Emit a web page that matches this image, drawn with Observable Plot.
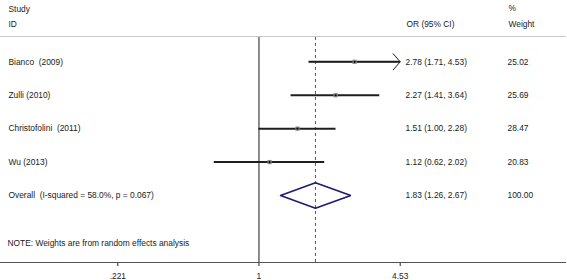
<!DOCTYPE html>
<html><head><meta charset="utf-8">
<script src="https://cdn.jsdelivr.net/npm/d3@7"></script>
<script src="https://cdn.jsdelivr.net/npm/@observablehq/plot@0.6"></script>
<style>body{margin:0;background:#fff} svg{display:block}</style>
</head><body><div id="chart"></div>
<script>
const studies = ["Bianco\u00a0 (2009)", "Zulli (2010)", "Christofolini\u00a0 (2011)", "Wu (2013)"];
const estimates = [2.78, 2.27, 1.51, 1.12];
const lower = [1.71, 1.41, 1.00, 0.62];
const upper = [4.53, 3.64, 2.28, 2.02];
const weights = [25.02, 25.69, 28.47, 20.83];
const overallLabel = "Overall\u00a0 (I-squared = 58.0%, p = 0.067)";
const overallEst = 1.83, overallLo = 1.26, overallHi = 2.67, overallWeight = 100.00;
const tickValues = [0.221, 1, 4.53];
const tickLabels = [".221", "1", "4.53"];
const headerStudy = ["Study", "ID"];
const headerOR = "OR (95% CI)";
const headerWeight = ["%", "Weight"];
const note = "NOTE: Weights are from random effects analysis";

const rows = studies.map((s, i) => ({study: s, row: i, est: estimates[i], lo: lower[i], hi: upper[i], weight: weights[i]}));
const overall = {study: overallLabel, row: studies.length, est: overallEst, lo: overallLo, hi: overallHi, weight: overallWeight};
const all = [...rows, overall];
const fmt = v => v.toFixed(2);
const ciText = d => `${fmt(d.est)} (${fmt(d.lo)}, ${fmt(d.hi)})`;
const xMax = d3.max(tickValues);
const clipped = rows.filter(d => d.hi >= xMax);
const h = 0.383;
const diamond = [
  {x: overall.lo, y: overall.row},
  {x: overall.est, y: overall.row - h},
  {x: overall.hi, y: overall.row},
  {x: overall.est, y: overall.row + h},
  {x: overall.lo, y: overall.row}
];

const W = 567, H = 280;
const textStyle = {fill: "#1a1a1a", textAnchor: "start", fontSize: 8.4};

const chart = Plot.plot({
  width: W, height: H,
  marginLeft: 0, marginRight: 2, marginTop: 37, marginBottom: 18,
  style: {fontFamily: "'Liberation Sans', Arial, sans-serif", fontSize: "8.4px", color: "#222", background: "#fff"},
  x: {type: "log", domain: [tickValues[0], xMax], range: [117.3, 399.7],
      ticks: tickValues, tickFormat: v => tickLabels[tickValues.indexOf(v)],
      tickSize: 4, tickPadding: 7, label: null},
  y: {domain: [0, studies.length], range: [61.3, 195], axis: null},
  marks: [
    Plot.frame({anchor: "top", stroke: "#c8c8c8", dy: -1}),
    Plot.frame({anchor: "bottom", stroke: "#555", strokeWidth: 1.2}),
    Plot.ruleX([1], {stroke: "#707070", strokeWidth: 1.6}),
    Plot.ruleX([overallEst], {stroke: "#b83030", strokeWidth: 1, strokeDasharray: "3,3"}),
    Plot.ruleY(rows, {y: "row", x1: "lo", x2: "hi", stroke: "#1e1e1e", strokeWidth: 2}),
    Plot.arrow(clipped, {x1: "lo", x2: "hi", y1: "row", y2: "row", stroke: "#1e1e1e", strokeWidth: 1, headAngle: 98, headLength: 16}),
    Plot.dot(rows, {x: "est", y: "row", symbol: "square", r: 2.4, fill: "#8a8a8a", stroke: null}),
    Plot.dot(rows, {x: "est", y: "row", r: 1.1, fill: "#000", stroke: null}),
    Plot.line(diamond, {x: "x", y: "y", stroke: "#1c1c72", strokeWidth: 1.6, strokeLinejoin: "miter"}),
    Plot.text(all, {y: "row", text: "study", frameAnchor: "left", dx: 8, ...textStyle}),
    Plot.text(all, {y: "row", text: ciText, frameAnchor: "left", dx: 405, ...textStyle}),
    Plot.text(all, {y: "row", text: d => fmt(d.weight), frameAnchor: "left", dx: 507, ...textStyle}),
    Plot.text([headerStudy[0]], {text: d => d, frameAnchor: "top-left", dx: 8, dy: -31, ...textStyle}),
    Plot.text([headerStudy[1]], {text: d => d, frameAnchor: "top-left", dx: 8, dy: -16, ...textStyle}),
    Plot.text([headerOR], {text: d => d, frameAnchor: "top-left", dx: 406, dy: -16, ...textStyle}),
    Plot.text([headerWeight[0]], {text: d => d, frameAnchor: "top-left", dx: 508, dy: -32, ...textStyle}),
    Plot.text([headerWeight[1]], {text: d => d, frameAnchor: "top-left", dx: 508, dy: -16, ...textStyle}),
    Plot.text([note], {text: d => d, frameAnchor: "bottom-left", dx: 7, dy: -16.5, ...textStyle})
  ]
});
document.getElementById("chart").appendChild(chart);
</script>
</body></html>
